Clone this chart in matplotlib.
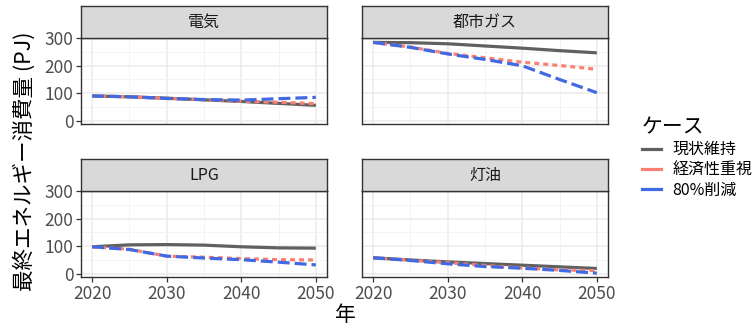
import matplotlib
matplotlib.use('Agg')
import matplotlib.pyplot as plt
from matplotlib.lines import Line2D

plt.rcParams['font.family'] = ['Noto Sans CJK JP', 'DejaVu Sans']
plt.rcParams['lines.scale_dashes'] = False

years = [2020, 2025, 2030, 2035, 2040, 2045, 2050]
cases = ['現状維持', '経済性重視', '80%削減']
fuels = ['電気', '都市ガス', 'LPG', '灯油']

# 最終エネルギー消費量 (PJ), 燃料ごと・ケースごと
denki = {
    '現状維持': [90, 87, 82, 76, 70, 63, 56],
    '経済性重視': [90, 87, 81, 76, 71, 67, 62],
    '80%削減': [90, 87, 81, 77, 75, 80, 85],
}
toshigas = {
    '現状維持': [285, 284, 280, 272, 264, 255, 247],
    '経済性重視': [285, 268, 245, 229, 213, 201, 187],
    '80%削減': [285, 267, 243, 223, 200, 150, 102],
}
lpg = {
    '現状維持': [98, 105, 106, 104, 98, 94, 93],
    '経済性重視': [98, 89, 64, 60, 55, 51, 50],
    '80%削減': [98, 88, 64, 57, 51, 42, 32],
}
touyu = {
    '現状維持': [58, 50, 43, 37, 31, 25, 19],
    '経済性重視': [58, 49, 40, 30, 21, 14, 11],
    '80%削減': [58, 48, 36, 26, 20, 12, 2],
}
data = {'電気': denki, '都市ガス': toshigas, 'LPG': lpg, '灯油': touyu}

styles = {
    '現状維持': dict(color='#606060', linestyle='-'),
    '経済性重視': dict(color='#FA8072', dashes=(3.6, 2.9)),
    '80%削減': dict(color='#4169E1', dashes=(8.6, 3.6)),
}

W, H = 753, 326
fig = plt.figure(figsize=(W / 100, H / 100), dpi=100)

def frac(x0, x1, ytop, ybot):
    return [x0 / W, 1 - ybot / H, (x1 - x0) / W, (ybot - ytop) / H]

cols = [(81, 327), (362, 608)]
rows = [(6, 38, 124), (159, 191, 277)]

for i, fuel in enumerate(fuels):
    r, c = divmod(i, 2)
    x0, x1 = cols[c]
    s_top, p_top, p_bot = rows[r]
    ax = fig.add_axes(frac(x0, x1, p_top, p_bot))
    ax.set_xlim(2018.5, 2051.5)
    ax.set_ylim(-12, 301)
    ax.set_xticks([2020, 2030, 2040, 2050])
    ax.set_xticks([2025, 2035, 2045], minor=True)
    ax.set_yticks([0, 100, 200, 300])
    ax.set_yticks([50, 150, 250], minor=True)
    ax.grid(True, which='major', color='#EBEBEB', lw=1.1)
    ax.grid(True, which='minor', color='#F2F2F2', lw=0.6)
    ax.set_axisbelow(True)
    for sp in ax.spines.values():
        sp.set_color('#333333')
        sp.set_linewidth(1.0)
    ax.tick_params(which='major', direction='out', length=3.5, width=0.9,
                   color='#333333', labelcolor='#4D4D4D', labelsize=12.5, pad=2)
    ax.tick_params(which='minor', length=0)
    if c == 1:
        ax.tick_params(axis='y', labelleft=False, length=0)
    if r == 0:
        ax.tick_params(axis='x', labelbottom=False, length=0)
    for case in cases:
        ax.plot(years, data[fuel][case], lw=2.3, **styles[case], solid_capstyle='butt')

    sax = fig.add_axes(frac(x0, x1, s_top, p_top))
    sax.set_facecolor('#D9D9D9')
    sax.set_xticks([])
    sax.set_yticks([])
    for sp in sax.spines.values():
        sp.set_color('#333333')
        sp.set_linewidth(1.0)
    sax.text(0.5, 0.48, fuel, ha='center', va='center', fontsize=11.5,
             color='#1A1A1A', transform=sax.transAxes)

fig.text(345 / W, 1 - 315 / H, '年', ha='center', va='center', fontsize=15)
fig.text(25 / W, 1 - 161 / H, '最終エネルギー消費量 (PJ)', ha='center', va='center',
         rotation=90, fontsize=15.5)

handles = [Line2D([], [], color=styles[cs]['color'], lw=2.3) for cs in cases]
leg = fig.legend(handles, cases, title='ケース', loc='upper left',
                 bbox_to_anchor=(634 / W, 1 - 108 / H), frameon=False,
                 fontsize=11.5, title_fontsize=15, handlelength=1.2,
                 handletextpad=0.7, labelspacing=0.2, borderpad=0)
leg._legend_box.align = 'left'

fig.savefig('out.png', dpi=100)
